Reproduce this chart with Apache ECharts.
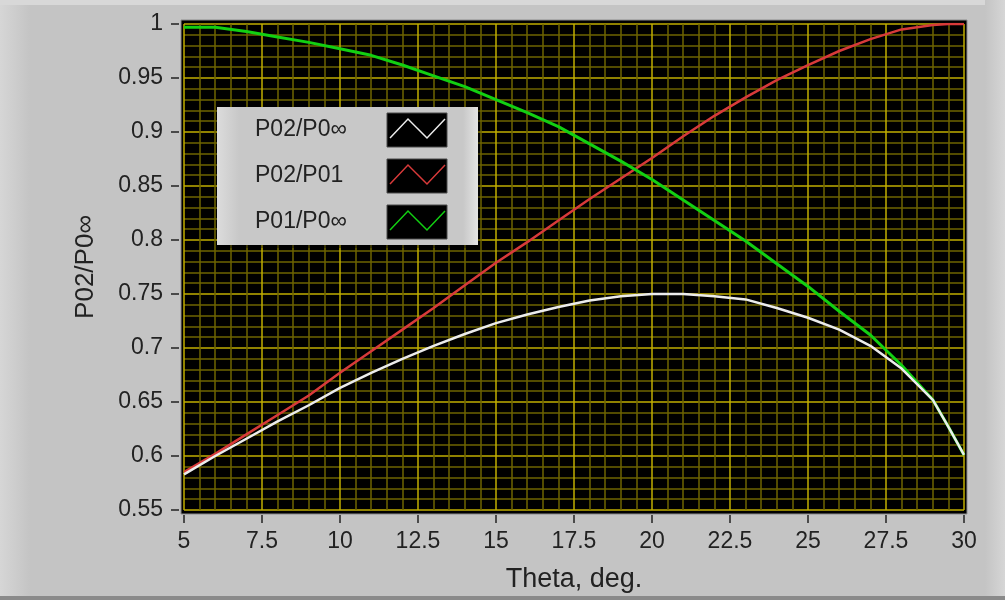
<!DOCTYPE html>
<html>
<head>
<meta charset="utf-8">
<script src="https://cdn.jsdelivr.net/npm/echarts@6/dist/echarts.min.js"></script>
<style>
  html, body { margin: 0; padding: 0; background: #c4c4c4; }
  #chart { width: 1005px; height: 600px; }
</style>
</head>
<body>
<div id="chart"></div>
<script>
// theta, deg.
const theta = [5, 6, 7, 8, 9, 10, 11, 12, 13, 14, 15, 16, 17, 18, 19, 20, 21, 22, 23, 24, 25, 26, 27, 28, 29, 29.5, 30];

// P02/P0inf (white)
const p02p0inf = [0.583, 0.600, 0.616, 0.632, 0.647, 0.663, 0.677, 0.690, 0.702, 0.713, 0.723, 0.731, 0.738, 0.744, 0.748, 0.750, 0.750, 0.748, 0.745, 0.737, 0.728, 0.717, 0.702, 0.681, 0.652, 0.627, 0.601];
// P02/P01 (red)
const p02p01 = [0.585, 0.602, 0.620, 0.638, 0.656, 0.677, 0.697, 0.717, 0.737, 0.758, 0.779, 0.798, 0.818, 0.838, 0.857, 0.876, 0.896, 0.915, 0.932, 0.948, 0.962, 0.975, 0.986, 0.995, 0.999, 1.000, 1.000];
// P01/P0inf (green)
const p01p0inf = [0.997, 0.997, 0.993, 0.988, 0.983, 0.977, 0.971, 0.962, 0.952, 0.942, 0.930, 0.918, 0.905, 0.889, 0.873, 0.856, 0.837, 0.818, 0.799, 0.778, 0.757, 0.734, 0.712, 0.684, 0.652, 0.627, 0.601];

const seriesNames = ['P02/P0∞', 'P02/P01', 'P01/P0∞'];
const seriesColors = ['#ececec', '#d83a3a', '#12d012'];

const pairs = (ys) => theta.map((t, i) => [t, ys[i]]);

const chart = echarts.init(document.getElementById('chart'));

const fontFamily = '"Liberation Sans", Arial, sans-serif';

// legend box drawn as graphic
const legendItems = [];
seriesNames.forEach((name, i) => {
  const top = 113 + i * 46;
  legendItems.push({
    type: 'text', z: 101, x: 255, y: top + 17,
    style: { text: name, fill: '#222', font: '23px ' + fontFamily, verticalAlign: 'middle' },
  });
  legendItems.push({
    type: 'rect', z: 101, shape: { x: 387, y: top, width: 60, height: 34 },
    style: { fill: '#000', stroke: '#4a4a4a', lineWidth: 1 },
  });
  legendItems.push({
    type: 'polyline', z: 102,
    shape: { points: [[390, top + 25], [408, top + 6], [427, top + 25], [445, top + 6]] },
    style: { stroke: seriesColors[i], lineWidth: 1.5, fill: null },
  });
});

chart.setOption({
  backgroundColor: '#c4c4c4',
  animation: false,
  grid: {
    left: 184, right: 41, top: 24, bottom: 90,
    show: true, backgroundColor: '#000', borderWidth: 0,
  },
  xAxis: {
    type: 'value', min: 5, max: 30, interval: 2.5,
    offset: 5,
    name: 'Theta, deg.', nameLocation: 'middle', nameGap: 51,
    nameTextStyle: { fontSize: 27, color: '#222', fontFamily },
    axisLine: { show: false },
    axisTick: { show: true, length: 8, lineStyle: { color: '#222', width: 1.5 } },
    axisLabel: { fontSize: 23, color: '#222', fontFamily, margin: 15 },
    splitLine: { show: true, lineStyle: { color: '#c0ae00', width: 1.5 } },
    minorTick: { show: false, splitNumber: 5 },
    minorSplitLine: { show: true, lineStyle: { color: '#6e6400', width: 1.5 } },
  },
  yAxis: {
    type: 'value', min: 0.55, max: 1, interval: 0.05,
    offset: 5,
    name: 'P02/P0∞', nameLocation: 'middle', nameGap: 80,
    nameTextStyle: { fontSize: 26, color: '#222', fontFamily },
    axisLine: { show: false },
    axisTick: { show: true, length: 8, lineStyle: { color: '#222', width: 1.5 } },
    axisLabel: { fontSize: 23, color: '#222', fontFamily, margin: 16 },
    splitLine: { show: true, lineStyle: { color: '#c0ae00', width: 1.5 } },
    minorTick: { show: false, splitNumber: 5 },
    minorSplitLine: { show: true, lineStyle: { color: '#6e6400', width: 1.5 } },
  },
  series: [
    {
      name: seriesNames[1], type: 'line', data: pairs(p02p01),
      symbol: 'none', lineStyle: { color: seriesColors[1], width: 2.5 },
    },
    {
      name: seriesNames[2], type: 'line', data: pairs(p01p0inf),
      symbol: 'none', lineStyle: { color: seriesColors[2], width: 3 },
    },
    {
      name: seriesNames[0], type: 'line', data: pairs(p02p0inf),
      symbol: 'none', lineStyle: { color: seriesColors[0], width: 2.5 },
    },
  ],
  graphic: [
    // outer frame bevels
    {
      type: 'rect', z: -10, shape: { x: 0, y: 0, width: 30, height: 600 }, silent: true,
      style: { fill: new echarts.graphic.LinearGradient(0, 0, 1, 0, [
        { offset: 0, color: '#d6d6d6' }, { offset: 1, color: '#c4c4c4' }]) },
    },
    {
      type: 'rect', z: -10, shape: { x: 0, y: 0, width: 1005, height: 5 }, silent: true,
      style: { fill: '#d8d8d8' },
    },
    {
      type: 'rect', z: -10, shape: { x: 985, y: 0, width: 20, height: 600 }, silent: true,
      style: { fill: new echarts.graphic.LinearGradient(0, 0, 1, 0, [
        { offset: 0, color: '#c4c4c4' }, { offset: 1, color: '#d6d6d6' }]) },
    },
    {
      type: 'rect', z: -10, shape: { x: 0, y: 596, width: 1005, height: 4 }, silent: true,
      style: { fill: '#8a8a8a' },
    },
    // plot frame behind the grid
    {
      type: 'rect', z: -5, shape: { x: 181, y: 20, width: 786, height: 494 }, silent: true,
      style: { fill: '#000', stroke: '#8c8c8c', lineWidth: 1 },
    },
    // legend panel
    {
      type: 'rect', z: 100, shape: { x: 219, y: 110, width: 261, height: 138 },
      style: { fill: 'rgba(0,0,0,0.35)' },
    },
    {
      type: 'rect', z: 100, shape: { x: 217, y: 107, width: 261, height: 138 },
      style: { fill: '#c8c8c8' },
    },
    {
      type: 'rect', z: 100, shape: { x: 217, y: 107, width: 22, height: 138 },
      style: { fill: new echarts.graphic.LinearGradient(0, 0, 1, 0, [
        { offset: 0, color: '#dcdcdc' }, { offset: 1, color: '#c8c8c8' }]) },
    },
    {
      type: 'rect', z: 100, shape: { x: 463, y: 107, width: 15, height: 138 },
      style: { fill: new echarts.graphic.LinearGradient(0, 0, 1, 0, [
        { offset: 0, color: '#c8c8c8' }, { offset: 1, color: '#e4e4e4' }]) },
    },
  ].concat(legendItems),
});
</script>
</body>
</html>
